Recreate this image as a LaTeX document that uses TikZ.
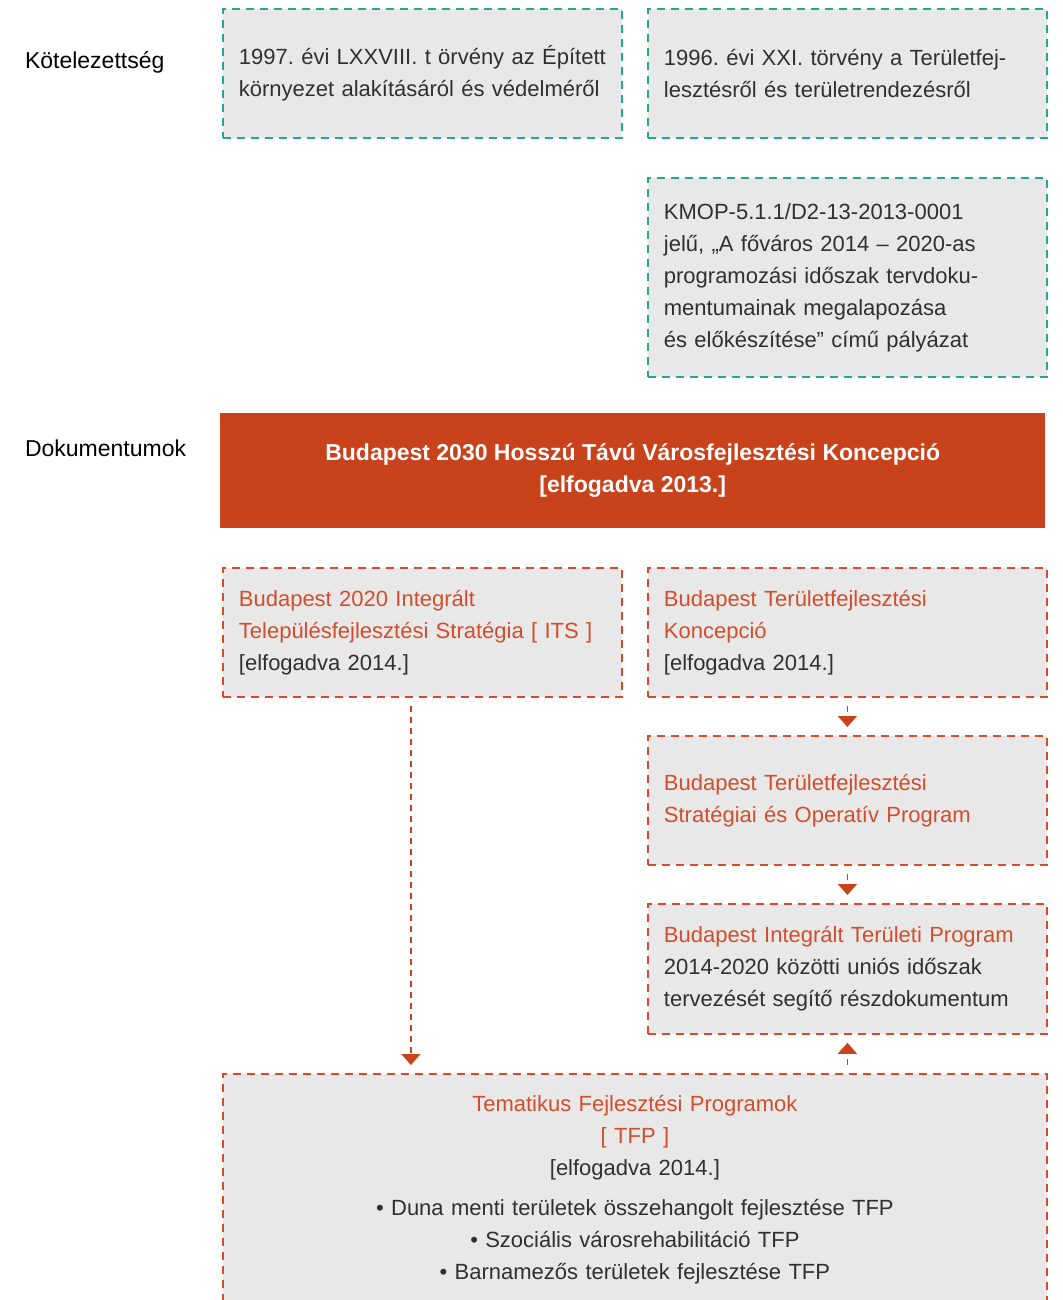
\documentclass[tikz,border=0pt]{standalone}
\usepackage{fontspec}
\setmainfont{Liberation Sans}
\usetikzlibrary{arrows.meta}
\frenchspacing
\definecolor{boxgray}{RGB}{232,232,232}
\definecolor{lawteal}{RGB}{38,166,150}
\definecolor{docorange}{RGB}{200,66,28}
\definecolor{docline}{RGB}{214,76,40}
\definecolor{doctext}{RGB}{210,78,42}
\definecolor{bodytext}{RGB}{48,48,48}
\tikzset{
  box/.style={fill=boxgray, line width=1.8pt, dash pattern=on 8pt off 6pt,
    minimum width=399pt, minimum height=129pt, inner xsep=16pt, text width=367pt,
    align=left, text=bodytext, font=\fontsize{22}{32}\selectfont, anchor=north west},
  lawbox/.style={box, draw=lawteal},
  docbox/.style={box, draw=docline},
  headbox/.style={fill=docorange, minimum width=825pt, minimum height=115pt,
    align=center, text=white, font=\fontsize{23}{32}\selectfont\bfseries, anchor=north west},
  rowlabel/.style={anchor=west, text=black, font=\fontsize{23}{32}\selectfont},
  flow/.style={draw=docorange, line width=1.8pt, dash pattern=on 6pt off 5pt,
    -{Triangle[width=19pt,length=11pt]}, shorten <=8pt, shorten >=8pt}
}
\begin{document}
\begin{tikzpicture}[x=1pt,y=-1pt]
  \useasboundingbox (0,0) rectangle (1062,1300);
  \clip (0,0) rectangle (1062,1300);
  % row labels
  \node[rowlabel] (oblig) at (21.5,62) {Kötelezettség};
  \node[rowlabel] (docs) at (21.5,448) {Dokumentumok};
  % obligations
  \node[lawbox] (law97) at (222,8) {1997. évi LXXVIII. t örvény az Épített\\környezet alakításáról és védelméről};
  \node[lawbox] (law96) at (647,8) {1996. évi XXI. törvény a Területfej-\\lesztésről és területrendezésről};
  \node[lawbox, minimum height=199pt] (kmop) at (647,177) {KMOP-5.1.1/D2-13-2013-0001\\jelű, „A főváros 2014 – 2020-as\\programozási időszak tervdoku-\\mentumainak megalapozása\\és előkészítése” című pályázat};
  % documents
  \node[headbox] (concept) at (220,413) {Budapest 2030 Hosszú Távú Városfejlesztési Koncepció\\{}[elfogadva 2013.]};
  \node[docbox] (its) at (222,567) {\textcolor{doctext}{Budapest 2020 Integrált}\\\textcolor{doctext}{Településfejlesztési Stratégia [ ITS ]}\\{}[elfogadva 2014.]};
  \node[docbox] (btk) at (647,567) {\textcolor{doctext}{Budapest Területfejlesztési}\\\textcolor{doctext}{Koncepció}\\{}[elfogadva 2014.]};
  \node[docbox] (btsop) at (647,735) {\textcolor{doctext}{Budapest Területfejlesztési}\\\textcolor{doctext}{Stratégiai és Operatív Program}};
  \node[docbox, minimum height=130pt] (itp) at (647,903) {\textcolor{doctext}{Budapest Integrált Területi Program}\\2014-2020 közötti uniós időszak\\tervezését segítő részdokumentum};
  \node[docbox, minimum width=824pt, text width=792pt, minimum height=232pt, align=center] (tfp) at (222,1073) {\textcolor{doctext}{Tematikus Fejlesztési Programok}\\\textcolor{doctext}{[ TFP ]}\\{}[elfogadva 2014.]\\[8pt]• Duna menti területek összehangolt fejlesztése TFP\\• Szociális városrehabilitáció TFP\\• Barnamezős területek fejlesztése TFP};
  % connectors
  \draw[flow] (btk.south) -- (btsop.north);
  \draw[flow] (btsop.south) -- (itp.north);
  \draw[flow] (itp.south |- tfp.north) -- (itp.south);
  \draw[flow] ([xshift=-11.5pt]its.south) -- ([xshift=-11.5pt]its.south |- tfp.north);
\end{tikzpicture}
\end{document}
